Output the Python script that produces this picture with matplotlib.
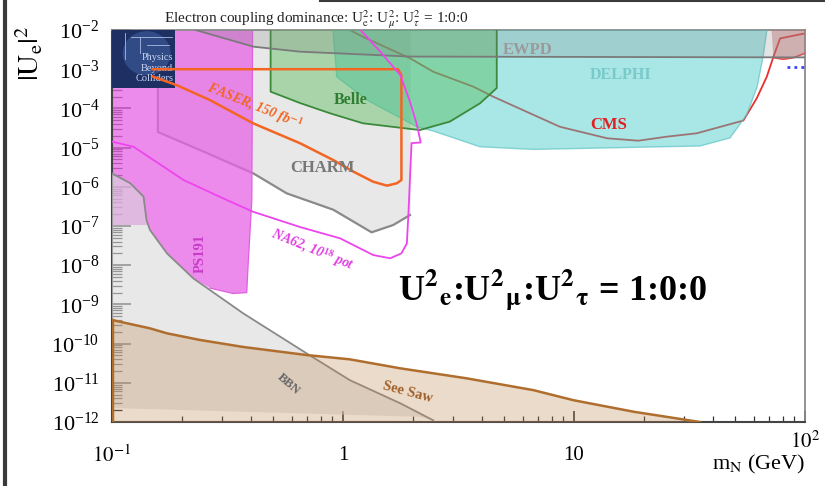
import numpy as np
import matplotlib
matplotlib.use('Agg')
import matplotlib.pyplot as plt
from matplotlib.ticker import LogLocator, NullFormatter, LogFormatterSciNotation
from matplotlib.lines import Line2D
from matplotlib.patches import Circle

plt.rcParams['font.family'] = ['Liberation Serif', 'DejaVu Serif']
plt.rcParams['mathtext.fontset'] = 'stix'

# m_N in GeV, |U_e|^2
charm_m = [0.158, 0.158, 0.240, 0.409, 0.571, 0.908, 1.33, 1.65, 1.95, 1.95]
charm_u = [1e-2, 2.5e-5, 8.7e-6, 2.2e-6, 6.8e-7, 2.6e-7, 6.9e-8, 1.06e-7, 1.9e-7, 1e-2]

bbn_m = [0.1, 0.12, 0.137, 0.141, 0.146, 0.173, 0.225, 0.370, 0.697, 1.07, 1.77, 2.46, 2.15, 0.1]
bbn_u = [2.2e-6, 1.23e-6, 5.6e-7, 1.42e-7, 7.9e-8, 2.0e-8, 4.6e-9, 5.9e-10, 5.6e-11, 1.17e-11, 3.0e-12, 1.1e-12, 1.36e-12, 2.28e-12]

ps191_m = [0.1, 0.406, 0.403, 0.388, 0.383, 0.334, 0.266, 0.224, 0.173, 0.146, 0.142, 0.1]
ps191_u = [1e-2, 1e-2, 4.6e-7, 9.2e-9, 2.0e-9, 1.9e-9, 2.6e-9, 4.7e-9, 2.0e-8, 7.9e-8, 1.06e-7, 1.06e-7]

belle_m = [0.486, 0.486, 0.652, 0.879, 1.22, 2.15, 2.90, 3.92, 4.63, 4.63]
belle_u = [1e-2, 2.67e-4, 1.37e-4, 7.5e-5, 4.17e-5, 2.8e-5, 4.6e-5, 1.35e-4, 3.3e-4, 1e-2]

delphi_m = [0.905, 0.940, 1.27, 2.09, 2.46, 3.92, 6.65, 35.1, 47.3, 55.9, 62.0, 65.8, 68.4]
delphi_u = [1e-2, 6.4e-4, 1.64e-4, 3.4e-5, 2.65e-5, 1.05e-5, 9.0e-6, 1.1e-5, 1.76e-5, 6.8e-5, 3.5e-4, 2.05e-3, 1e-2]

ewpd_m = [0.23, 0.41, 0.652, 1.95, 100, 100]
ewpd_u = [1e-2, 3.75e-3, 2.8e-3, 2.1e-3, 2.0e-3, 1e-2]

seesaw_m = [0.1, 0.146, 0.173, 0.240, 0.370, 0.697, 1.07, 1.77, 3.43, 6.67, 9.94, 18.1, 35.1]
seesaw_u = [4.0e-10, 2.45e-10, 1.83e-10, 1.24e-10, 8.2e-11, 5.1e-11, 3.97e-11, 2.34e-11, 1.3e-11, 6.5e-12, 3.6e-12, 1.83e-12, 1.0e-12]

cms_m = [1.07, 1.22, 1.95, 2.46, 3.67, 4.47, 6.24, 8.69, 13.9, 19.0, 25.2, 34.0, 54.1, 61.8, 68.3, 73.0, 78.0, 100]
cms_u = [1e-2, 6.7e-3, 1.9e-3, 8.6e-4, 3.58e-4, 1.99e-4, 8.2e-5, 3.4e-5, 1.73e-5, 1.5e-5, 1.9e-5, 2.32e-5, 4.9e-5, 1.81e-4, 6.4e-4, 2.08e-3, 6.1e-3, 8.2e-3]

hiu_m = [71.6, 73.0, 80.5, 89.0, 100, 100]
hiu_u = [1e-2, 1.97e-3, 1.79e-3, 1.96e-3, 2.55e-3, 1e-2]

dots_m = [83.4, 100]
dots_u = [1.12e-3, 1.12e-3]

faser_m = [0.15, 1.73, 1.79, 1.79, 1.71, 1.55, 1.35, 1.11, 0.908, 0.652, 0.408, 0.265, 0.190, 0.15]
faser_u = [1e-3, 1e-3, 7.1e-4, 1.49e-6, 1.23e-6, 1.07e-6, 1.35e-6, 2.43e-6, 4.8e-6, 1.29e-5, 4.17e-5, 1.64e-4, 3.95e-4, 6.5e-4]

na62_m = [0.1, 0.124, 0.204, 0.314, 0.409, 0.652, 0.971, 1.35, 1.60, 1.79, 1.89, 1.92, 1.98, 2.17, 2.09, 1.95, 1.77, 1.45, 1.19]
na62_u = [1.42e-5, 1.05e-5, 1.49e-6, 4.6e-7, 2.3e-7, 9.4e-8, 4.85e-8, 1.82e-8, 1.5e-8, 2.0e-8, 3.6e-8, 2.1e-7, 1.3e-5, 1.35e-5, 3.8e-5, 1.48e-4, 7.1e-4, 2.8e-3, 1e-2]

x_ticks = [0.1, 1, 10, 100]
x_tick_labels = [r'$10^{-1}$', '1', '10', '']
y_ticks = [1e-12, 1e-11, 1e-10, 1e-9, 1e-8, 1e-7, 1e-6, 1e-5, 1e-4, 1e-3, 1e-2]

fig = plt.figure(figsize=(8.25, 4.86), dpi=100)
ax = fig.add_axes([112/825, 1-422/486, 693/825, 392/486])
ax.set_xscale('log')
ax.set_yscale('log')
ax.set_xlim(0.1, 100)
ax.set_ylim(1e-12, 1e-2)

# regions
ax.fill(charm_m, charm_u, color='#e8e8e8', zorder=1)
ax.plot(charm_m[:-1], charm_u[:-1], color='#8a8a8a', lw=1.6, zorder=1.5)
ax.fill(ps191_m, ps191_u, color='#e664e6', alpha=0.75, lw=0, zorder=2)
ax.plot(ps191_m[1:7], ps191_u[1:7], color='#e060e0', lw=0.9, zorder=2)
ax.fill(bbn_m, bbn_u, color='#d9d9d9', alpha=0.6, lw=0, zorder=3)
ax.plot(bbn_m[:12], bbn_u[:12], color='#8a8a8a', lw=1.3, zorder=3)
ax.plot(cms_m, cms_u, color='#e83030', lw=1.3, zorder=2.5)
ax.fill(delphi_m, delphi_u, color='#40c8c8', alpha=0.45, lw=0, zorder=4)
ax.plot(delphi_m, delphi_u, color='#60c4c4', lw=1.0, alpha=0.7, zorder=4)
ax.fill(belle_m, belle_u, color='#4cb84c', alpha=0.4, lw=0, zorder=5)
ax.plot(belle_m, belle_u, color='#3a8a3a', lw=1.3, zorder=5)
ax.fill(hiu_m, hiu_u, color='#c87070', alpha=0.45, lw=0, zorder=4)
ax.plot(hiu_m[1:5], hiu_u[1:5], color='#e85050', lw=1.2, zorder=5)
ax.fill(ewpd_m, ewpd_u, color='#808080', alpha=0.22, lw=0, zorder=6)
ax.plot(ewpd_m[:5], ewpd_u[:5], color='#7a7a7a', lw=1.3, zorder=6)
ax.fill_between(seesaw_m, 1e-12, seesaw_u, color='#c08850', alpha=0.3, lw=0, zorder=6)
ax.plot(seesaw_m, seesaw_u, color='#b06e2e', lw=1.8, zorder=6)
ax.plot([seesaw_m[0], seesaw_m[0]], [1e-12, seesaw_u[0]], color='#b06e2e', lw=2.5, zorder=6)
ax.plot(faser_m, faser_u, color='#f26522', lw=1.8, zorder=7)
ax.plot(na62_m, na62_u, color='#ee44ee', lw=1.3, zorder=7)
ax.plot(dots_m, dots_u, color='#3344ff', lw=2, ls=(0, (1, 1.5)), zorder=7)

# labels of regions
lab = dict(transform=ax.transAxes, ha='center', va='center', fontweight='bold', zorder=10)
ax.text(0.600, 0.949, 'EWPD', color='#9a9a9a', fontsize=12, **lab)
ax.text(0.734, 0.885, 'DELPHI', color='#78caca', fontsize=11.5, **lab)
ax.text(0.716, 0.758, 'CMS', color='#e02020', fontsize=12, **lab)
ax.text(0.345, 0.821, 'Belle', color='#2e7d32', fontsize=11.5, **lab)
ax.text(0.205, 0.806, r'FASER, 150 fb$^{\mathbf{-1}}$', color='#f26522', fontsize=10,
        rotation=-22, style='italic', **lab)
ax.text(0.303, 0.648, 'CHARM', color='#777777', fontsize=12, **lab)
ax.text(0.289, 0.439, r'NA62, 10$^{\mathbf{18}}$ pot', color='#e040e0', fontsize=10,
        rotation=-22, style='italic', **lab)
ax.text(0.127, 0.429, 'PS191', color='#c83cc8', fontsize=10.5, rotation=90, **lab)
ax.text(0.255, 0.097, 'BBN', color='#666666', fontsize=9, rotation=-41, **lab)
ax.text(0.427, 0.077, 'See Saw', color='#a0602a', fontsize=10.5, rotation=-15, **lab)

ax.text(0.636, 0.335,
        r'U$\mathbf{^2{}_e}$:U$\mathbf{^2{}_{\mu}}$:U$\mathbf{^2{}_{\tau}}$ = 1:0:0',
        transform=ax.transAxes, ha='center', va='center', fontsize=26,
        fontweight='bold', color='black', zorder=10)

# axes styling
ax.set_xticks(x_ticks)
ax.set_xticklabels(x_tick_labels)
ax.xaxis.set_minor_locator(LogLocator(base=10, subs=np.arange(2, 10), numticks=20))
ax.xaxis.set_minor_formatter(NullFormatter())
ax.set_yticks(y_ticks)
ax.yaxis.set_major_formatter(LogFormatterSciNotation())
ax.yaxis.set_minor_locator(LogLocator(base=10, subs=np.arange(2, 10), numticks=20))
ax.yaxis.set_minor_formatter(NullFormatter())
ax.tick_params(axis='both', which='both', direction='in', top=False, right=False, color='#333333')
ax.tick_params(axis='y', which='major', length=14, width=1.2, pad=9, labelsize=16)
ax.tick_params(axis='y', which='minor', length=7, width=0.9)
ax.tick_params(axis='x', which='major', length=8, width=1.2, pad=17, labelsize=15)
ax.tick_params(axis='x', which='minor', length=4.5, width=0.9)
for s in ['left', 'bottom']:
    ax.spines[s].set_color('#444444')
    ax.spines[s].set_linewidth(1.5)
for s in ['top', 'right']:
    ax.spines[s].set_color('#8a8a8a')
    ax.spines[s].set_linewidth(1.3)
ax.text(100, -0.052, r'$10^{2}$', transform=ax.get_xaxis_transform(), ha='center', va='center', fontsize=15)

# logo
logo = ax.inset_axes([0, 0.852, 0.091, 0.148])
logo.set_facecolor('#1e2f63')
logo.set_xlim(0, 1)
logo.set_ylim(0, 1)
logo.set_xticks([])
logo.set_yticks([])
for s in logo.spines.values():
    s.set_visible(False)
logo.add_patch(Circle((0.55, 0.6), 0.38, color='#4a6fb5', alpha=0.45, lw=0))
logo.plot([0.3, 0.95], [0.88, 0.88], color='#aabbe0', lw=0.6)
logo.plot([0.45, 0.45], [0.88, 0.6], color='#aabbe0', lw=0.6)
logo.plot([0.55, 0.9], [0.75, 0.75], color='#aabbe0', lw=0.6)
logo.plot([0.2, 0.2], [0.95, 0.5], color='#aabbe0', lw=0.6)
logo.text(0.97, 0.52, 'Physics', color='#c8d4f2', fontsize=7.5, ha='right', va='center')
logo.text(0.97, 0.345, 'Beyond', color='#c8d4f2', fontsize=7.5, ha='right', va='center')
logo.text(0.97, 0.17, 'Colliders', color='#c8d4f2', fontsize=7.5, ha='right', va='center')

# axis titles
fig.text(0.383, 0.959, r'Electron coupling dominance: U$^2_{\rm e}$: U$^2_\mu$: U$^2_\tau$ = 1:0:0',
         ha='center', va='center', fontsize=11, color='#222222')
fig.text(0.035, 0.891, r'$|\mathrm{U}_\mathrm{e}|^2$', rotation=90, ha='center', va='center', fontsize=21)
fig.text(0.976, 0.045, r'm$_\mathrm{N}$ (GeV)', ha='right', va='center', fontsize=16)

# screenshot borders
fig.add_artist(Line2D([5/825, 5/825], [0, 1], color='#3a3a3a', lw=3))
fig.add_artist(Line2D([320/825, 1], [0.998, 0.998], color='#3a3a3a', lw=1.5))

fig.savefig('out.png', dpi=100)
